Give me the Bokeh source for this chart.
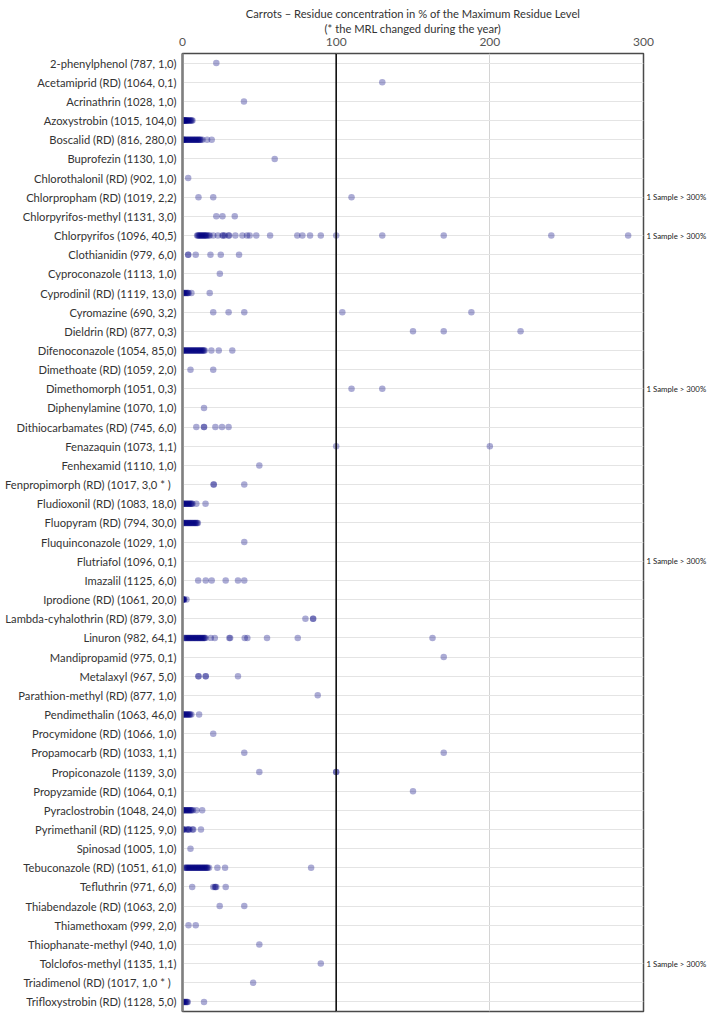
from bokeh.plotting import figure
from bokeh.models import (Range1d, FixedTicker, Span, Title, ColumnDataSource,
                          LinearAxis)
from bokeh.embed import file_html
from bokeh.resources import INLINE

labels = [
    "2-phenylphenol (787, 1,0)",
    "Acetamiprid (RD) (1064, 0,1)",
    "Acrinathrin (1028, 1,0)",
    "Azoxystrobin (1015, 104,0)",
    "Boscalid (RD) (816, 280,0)",
    "Buprofezin (1130, 1,0)",
    "Chlorothalonil (RD) (902, 1,0)",
    "Chlorpropham (RD) (1019, 2,2)",
    "Chlorpyrifos-methyl (1131, 3,0)",
    "Chlorpyrifos (1096, 40,5)",
    "Clothianidin (979, 6,0)",
    "Cyproconazole (1113, 1,0)",
    "Cyprodinil (RD) (1119, 13,0)",
    "Cyromazine (690, 3,2)",
    "Dieldrin (RD) (877, 0,3)",
    "Difenoconazole (1054, 85,0)",
    "Dimethoate (RD) (1059, 2,0)",
    "Dimethomorph (1051, 0,3)",
    "Diphenylamine (1070, 1,0)",
    "Dithiocarbamates (RD) (745, 6,0)",
    "Fenazaquin (1073, 1,1)",
    "Fenhexamid (1110, 1,0)",
    "Fenpropimorph (RD) (1017, 3,0  *  )",
    "Fludioxonil (RD) (1083, 18,0)",
    "Fluopyram (RD) (794, 30,0)",
    "Fluquinconazole (1029, 1,0)",
    "Flutriafol (1096, 0,1)",
    "Imazalil (1125, 6,0)",
    "Iprodione (RD) (1061, 20,0)",
    "Lambda-cyhalothrin (RD) (879, 3,0)",
    "Linuron (982, 64,1)",
    "Mandipropamid (975, 0,1)",
    "Metalaxyl (967, 5,0)",
    "Parathion-methyl (RD) (877, 1,0)",
    "Pendimethalin (1063, 46,0)",
    "Procymidone (RD) (1066, 1,0)",
    "Propamocarb (RD) (1033, 1,1)",
    "Propiconazole (1139, 3,0)",
    "Propyzamide (RD) (1064, 0,1)",
    "Pyraclostrobin (1048, 24,0)",
    "Pyrimethanil (RD) (1125, 9,0)",
    "Spinosad (1005, 1,0)",
    "Tebuconazole (RD) (1051, 61,0)",
    "Tefluthrin (971, 6,0)",
    "Thiabendazole (RD) (1063, 2,0)",
    "Thiamethoxam (999, 2,0)",
    "Thiophanate-methyl (940, 1,0)",
    "Tolclofos-methyl (1135, 1,1)",
    "Triadimenol (RD) (1017, 1,0  *  )",
    "Trifloxystrobin (RD) (1128, 5,0)",
]

# residue concentrations (% of MRL) per substance, same order as labels
residues = [
    [22],
    [130],
    [40],
    [0, 0, 0, 0.5, 0.5, 1, 1, 1.5, 1.5, 2, 2, 2.5, 3, 3, 3.5, 4, 4.5, 5, 5.5, 6, 6.5],
    [0, 0, 0, 0.5, 1, 1, 1.5, 2, 2.5, 3, 3.5, 4, 4.5, 5, 5.5, 6, 6.5, 7, 7.5, 8, 8.5, 9,
     9.5, 10, 10.5, 11, 11.5, 12, 13, 16, 19],
    [60],
    [3.7],
    [10.4, 20, 110],
    [22, 26, 34],
    [9.5, 10, 10.5, 11, 11.5, 12, 12.5, 13, 13.5, 14, 14.5, 15, 15.5, 16, 17, 17.7, 20,
     23, 26, 26.5, 27.5, 30, 30.3, 34.4, 39, 42, 43.7, 48, 57, 74.7, 78, 83, 90, 100,
     130, 170, 240, 290],
    [3.7, 3.7, 8.6, 18.2, 24.9, 36.8],
    [24.3],
    [0, 0, 0.5, 1, 1.5, 2, 2.5, 3, 3.5, 4, 5.8, 17.7],
    [20, 30, 40.2, 104, 188],
    [150, 170, 220],
    [0, 0, 0.5, 1, 1.5, 2, 2.5, 3, 3.5, 4, 4.5, 5, 5.5, 6, 6.5, 7, 7.5, 8, 8.5, 9, 9.5,
     10, 10.5, 11, 11.5, 12, 12.5, 13, 13.5, 14, 14.5, 18.8, 23.6, 32.4],
    [5.2, 20],
    [110, 130],
    [14],
    [9, 14, 14, 21.4, 25.7, 30],
    [100, 200],
    [50],
    [20.3, 20.3, 40.2],
    [0, 0, 0.5, 1, 1.5, 2, 2.5, 3, 3.5, 4, 4.5, 5, 5.5, 6, 6.5, 9, 15],
    [0, 0, 0.5, 1, 1.5, 2, 2.5, 3, 3.5, 4, 4.5, 5, 5.5, 6, 6.5, 7, 7.5, 8, 8.5, 9, 9.5, 10],
    [40.2],
    [],
    [10.2, 15.1, 19, 28.1, 36.1, 40.2],
    [0, 0, 0, 0.3, 0.6, 1, 1, 2.6],
    [80, 85, 85],
    [1, 1.5, 2, 2.5, 3, 3.5, 4, 4.5, 5, 5.5, 6, 6.5, 7, 7.5, 8, 8.5, 9, 9.5, 10, 10.5, 11,
     11.5, 12, 12.5, 13, 13.5, 14, 14.5, 15, 18.4, 21, 30.5, 31, 40.5, 42.2, 55, 75, 162.7],
    [170],
    [10.4, 10.4, 15.1, 15.1, 36.1],
    [88],
    [0, 0, 0.5, 1, 1.5, 2, 2.5, 3, 3.5, 4, 4.5, 5, 5.8, 10.8],
    [20],
    [40.2, 170],
    [50, 100, 100],
    [150],
    [0, 0, 0.5, 1, 1.5, 2, 2.5, 3, 3.5, 4, 4.5, 5, 5.5, 6, 6.8, 9, 12.8],
    [0, 0, 0.5, 1, 2.5, 3.5, 4, 4.5, 6.5, 7, 12],
    [5.2],
    [1.5, 2, 2.5, 3, 3.5, 4, 4.5, 5, 5.5, 6, 6.5, 7, 7.5, 8, 8.5, 9, 9.5, 10, 10.5, 11, 11.5,
     12, 12.5, 13, 13.5, 14, 14.5, 15, 15.5, 16, 16.4, 17.3, 22.7, 27.7, 83.7],
    [6.3, 20, 21, 21.5, 22, 28.1],
    [24.2, 40.2],
    [3.9, 8.6],
    [50],
    [90],
    [46],
    [0, 0, 0.5, 1, 1.5, 2, 2.5, 3, 3.4, 14],
]

over300_rows = [
    "Chlorpropham (RD) (1019, 2,2)",
    "Chlorpyrifos (1096, 40,5)",
    "Dimethomorph (1051, 0,3)",
    "Flutriafol (1096, 0,1)",
    "Tolclofos-methyl (1135, 1,1)",
]
over300_text = "1 Sample > 300%"

x_ticks = [0, 100, 200, 300]
mrl_line = 100

title1 = "Carrots \u2013 Residue concentration in % of the Maximum Residue Level"
title2 = "(* the MRL changed during the year)"

FONT = "Lato"
n = len(labels)

xs, ys = [], []
for i, vals in enumerate(residues):
    for v in vals:
        xs.append(v)
        ys.append(i)
src = ColumnDataSource(data=dict(x=xs, y=ys))

p = figure(width=709, height=1016, output_backend="svg", toolbar_location=None,
           x_range=Range1d(0, 300), y_range=Range1d(n - 0.5, -0.5),
           x_axis_location="above", title=None,
           min_border_left=182, min_border_right=65, min_border_top=53,
           min_border_bottom=5)

p.outline_line_color = "#4a4a4a"
p.outline_line_width = 1.5
p.background_fill_color = "white"
p.border_fill_color = "white"

xa = p.xaxis[0]
xa.ticker = FixedTicker(ticks=x_ticks)
xa.major_tick_line_color = None
xa.minor_tick_line_color = None
xa.major_tick_out = 0
xa.major_tick_in = 0
xa.minor_tick_out = 0
xa.axis_line_color = None
xa.major_label_text_font = FONT
xa.major_label_text_font_size = "12px"
xa.major_label_text_color = "#555555"
xa.major_label_standoff = 8

ya = p.yaxis[0]
ya.ticker = FixedTicker(ticks=list(range(n)))
ya.major_label_overrides = {i: lab for i, lab in enumerate(labels)}
ya.major_tick_line_color = None
ya.minor_tick_line_color = None
ya.major_tick_out = 0
ya.major_tick_in = 0
ya.minor_tick_out = 0
ya.axis_line_color = "#808080"
ya.axis_line_width = 2.5
ya.major_label_text_font = FONT
ya.major_label_text_font_size = "11.2px"
ya.major_label_text_color = "#333333"
ya.major_label_standoff = 6

over_idx = [labels.index(lab) for lab in over300_rows]
ra = LinearAxis(ticker=FixedTicker(ticks=over_idx),
                major_label_overrides={i: over300_text for i in over_idx},
                axis_line_color=None, major_tick_line_color=None,
                minor_tick_line_color=None, major_tick_out=0, major_tick_in=0,
                minor_tick_out=0, minor_tick_in=0, major_label_standoff=3,
                axis_label_standoff=0,
                major_label_text_font=FONT, major_label_text_font_size="7.8px",
                major_label_text_color="#222222")
p.add_layout(ra, "right")

p.xgrid.grid_line_color = "#d4d4d4"
p.ygrid.grid_line_color = "#e4e4e4"
p.ygrid.ticker = FixedTicker(ticks=list(range(n)))

p.add_layout(Span(location=mrl_line, dimension="height", line_color="black", line_width=1.5))

p.scatter("x", "y", source=src, size=6.5, fill_color="#000080", fill_alpha=0.33,
          line_color=None)

p.add_layout(Title(text=title2, align="center", text_font=FONT, text_font_size="11.2px",
                   text_font_style="normal", text_color="#333333", standoff=0), "above")
p.add_layout(Title(text=title1, align="center", text_font=FONT, text_font_size="11.2px",
                   text_font_style="normal", text_color="#333333", standoff=0), "above")

open("out.html", "w").write(file_html(p, INLINE))
